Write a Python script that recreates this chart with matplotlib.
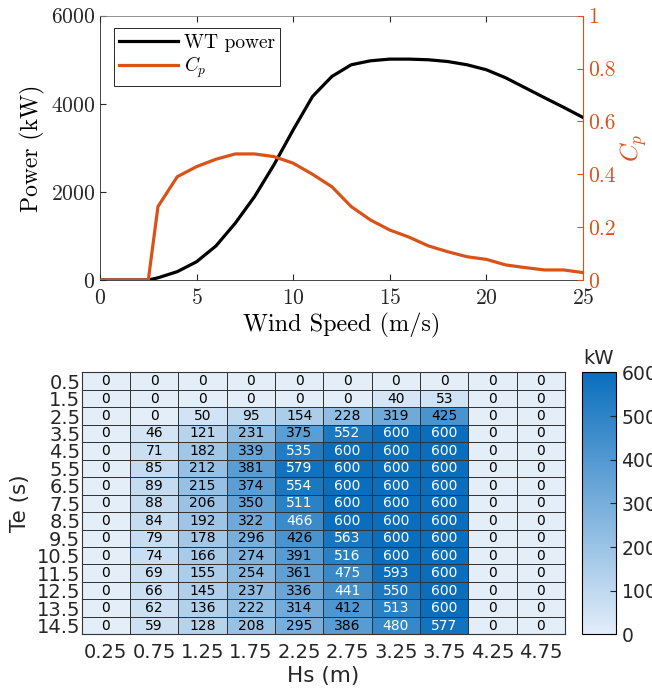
import matplotlib
matplotlib.use("Agg")
import matplotlib.pyplot as plt
import numpy as np
from matplotlib.colors import LinearSegmentedColormap

# Wind turbine power curve and power coefficient
wind_speed = [0, 1, 2, 2.5, 3, 4, 5, 6, 7, 8, 9, 10, 11, 12, 13, 14, 15,
              16, 17, 18, 19, 20, 21, 22, 23, 24, 25]
wt_power = [0, 0, 0, 0, 50, 190, 415, 773, 1290, 1894, 2614, 3410, 4167,
            4621, 4886, 4977, 5015, 5015, 5000, 4960, 4886, 4773, 4590,
            4365, 4140, 3920, 3690]
cp = [0, 0, 0, 0, 0.278, 0.391, 0.429, 0.457, 0.477, 0.477, 0.467, 0.442,
      0.400, 0.353, 0.278, 0.227, 0.189, 0.162, 0.129, 0.107, 0.088, 0.078,
      0.057, 0.047, 0.038, 0.038, 0.028]

# Wave energy converter power matrix (kW)
te_labels = ["0.5", "1.5", "2.5", "3.5", "4.5", "5.5", "6.5", "7.5", "8.5",
             "9.5", "10.5", "11.5", "12.5", "13.5", "14.5"]
hs_labels = ["0.25", "0.75", "1.25", "1.75", "2.25", "2.75", "3.25", "3.75",
             "4.25", "4.75"]
wave_power = [
    [0, 0, 0, 0, 0, 0, 0, 0, 0, 0],
    [0, 0, 0, 0, 0, 0, 40, 53, 0, 0],
    [0, 0, 50, 95, 154, 228, 319, 425, 0, 0],
    [0, 46, 121, 231, 375, 552, 600, 600, 0, 0],
    [0, 71, 182, 339, 535, 600, 600, 600, 0, 0],
    [0, 85, 212, 381, 579, 600, 600, 600, 0, 0],
    [0, 89, 215, 374, 554, 600, 600, 600, 0, 0],
    [0, 88, 206, 350, 511, 600, 600, 600, 0, 0],
    [0, 84, 192, 322, 466, 600, 600, 600, 0, 0],
    [0, 79, 178, 296, 426, 563, 600, 600, 0, 0],
    [0, 74, 166, 274, 391, 516, 600, 600, 0, 0],
    [0, 69, 155, 254, 361, 475, 593, 600, 0, 0],
    [0, 66, 145, 237, 336, 441, 550, 600, 0, 0],
    [0, 62, 136, 222, 314, 412, 513, 600, 0, 0],
    [0, 59, 128, 208, 295, 386, 480, 577, 0, 0],
]

orange = "#D95319"

plt.rcParams["mathtext.fontset"] = "cm"
plt.rcParams["axes.formatter.use_mathtext"] = True

fig = plt.figure(figsize=(6.52, 6.96), dpi=100)

# ---- top: power curve with Cp on a second axis ----
serif = "cmr10"
ax1 = fig.add_axes([0.1534, 0.5977, 0.7408, 0.3797])
ax1.plot(wind_speed, wt_power, color="black", lw=2.3, label="WT power")
ax1.set_xlim(0, 25)
ax1.set_ylim(0, 6000)
ax1.set_xticks([0, 5, 10, 15, 20, 25])
ax1.set_yticks([0, 2000, 4000, 6000])
ax1.set_xlabel("Wind Speed (m/s)", fontsize=17.5, family=serif, labelpad=3)
ax1.set_ylabel("Power (kW)", fontsize=17, family=serif, labelpad=4)
ax1.tick_params(direction="in", top=True, labelsize=15.5, length=4, colors="#262626")
ax1.tick_params(axis="x", pad=6)
for lab in ax1.get_xticklabels() + ax1.get_yticklabels():
    lab.set_family(serif)
for s in ["left", "bottom", "top"]:
    ax1.spines[s].set_color("#262626")
    ax1.spines[s].set_linewidth(0.6)
ax1.spines["top"].set_color("#7f7f7f")
ax1.spines["right"].set_visible(False)

ax2 = ax1.twinx()
ax2.plot(wind_speed, cp, color=orange, lw=2.3, label="$C_p$")
ax2.set_ylim(0, 1)
ax2.set_yticks([0, 0.2, 0.4, 0.6, 0.8, 1])
ax2.set_yticklabels(["0", "0.2", "0.4", "0.6", "0.8", "1"])
ax2.set_ylabel("$C_p$", fontsize=18, color=orange, labelpad=2)
ax2.tick_params(direction="in", labelsize=15.5, length=4, colors=orange)
for lab in ax2.get_yticklabels():
    lab.set_family(serif)
for s in ["left", "bottom", "top"]:
    ax2.spines[s].set_visible(False)
ax2.spines["right"].set_color(orange)
ax2.spines["right"].set_linewidth(0.8)

lines = ax1.get_lines() + ax2.get_lines()
leg = ax1.legend(lines, [l.get_label() for l in lines], loc="upper left",
                 bbox_to_anchor=(0.008, 0.99), fancybox=False, framealpha=1,
                 edgecolor="#262626", handlelength=3.0, borderpad=0.3,
                 labelspacing=0.15, handletextpad=0.3,
                 prop={"family": serif, "size": 14})
leg.get_frame().set_linewidth(0.7)

# ---- bottom: heatmap of the power matrix ----
cmap = LinearSegmentedColormap.from_list("blues", ["#e3eef9", "#0a6ebd"])
data = np.array(wave_power)
ax3 = fig.add_axes([0.1253, 0.0886, 0.7413, 0.3764])
im = ax3.pcolormesh(data, cmap=cmap, vmin=0, vmax=600,
                    edgecolors="#333333", linewidth=0.7)
ax3.set_xlim(0, data.shape[1])
ax3.set_ylim(data.shape[0], 0)
ax3.set_xticks(np.arange(data.shape[1]) + 0.5)
ax3.set_xticklabels(hs_labels)
ax3.set_yticks(np.arange(data.shape[0]) + 0.5)
ax3.set_yticklabels(te_labels)
ax3.tick_params(length=0, labelsize=14, colors="#262626")
ax3.tick_params(axis="x", pad=6)
ax3.tick_params(axis="y", pad=1)
ax3.set_xlabel("Hs (m)", fontsize=15.5, color="#262626", labelpad=3)
ax3.set_ylabel("Te (s)", fontsize=15.5, color="#262626", labelpad=5)
for s in ax3.spines.values():
    s.set_color("#333333")
    s.set_linewidth(0.8)

for i in range(data.shape[0]):
    for j in range(data.shape[1]):
        v = data[i, j]
        ax3.text(j + 0.5, i + 0.5, str(v), ha="center", va="center",
                 fontsize=10, color="white" if v > 430 else "black")

cax = fig.add_axes([0.8922, 0.0886, 0.0521, 0.3764])
cb = fig.colorbar(im, cax=cax)
cb.set_ticks([0, 100, 200, 300, 400, 500, 600])
cb.outline.set_linewidth(0.8)
cax.tick_params(labelsize=13.5, direction="in", length=4, colors="#262626")
cax.set_title("kW", fontsize=14, color="#262626", pad=6)

fig.savefig("out.png", dpi=100)
